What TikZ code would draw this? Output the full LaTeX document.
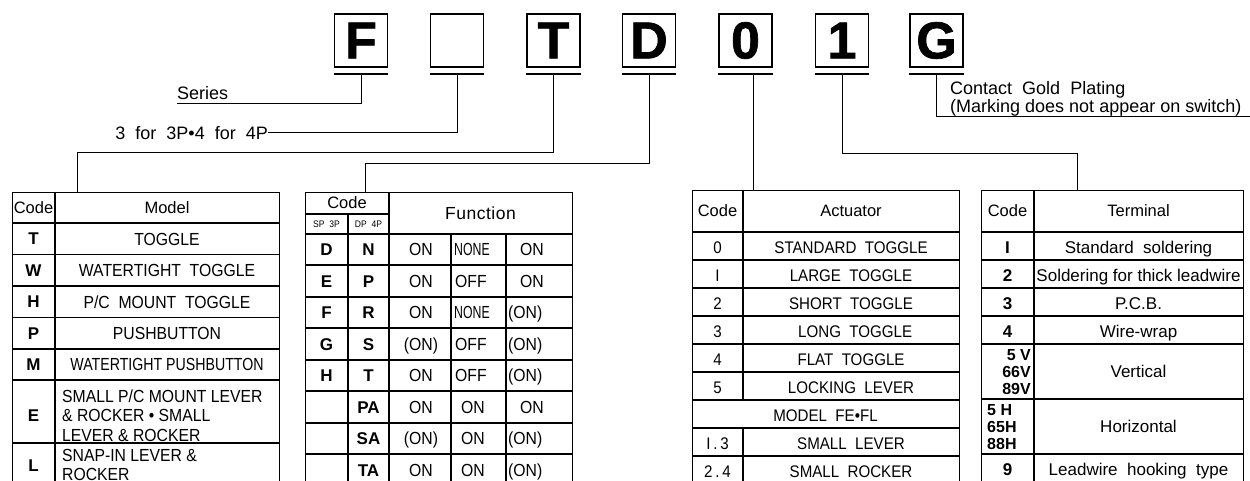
\documentclass[tikz,border=0pt]{standalone}
\usepackage{fontspec}
\setmainfont{Liberation Sans}
\newfontfamily\nf[FakeStretch=0.9]{Liberation Sans}
\newfontfamily\heavy[FakeBold=1.3]{Liberation Sans Bold}
\usetikzlibrary{calc}
\tikzset{
  bigbox/.style={draw, line width=1.5pt, minimum width=53pt, minimum height=53pt, inner sep=0pt,
    font=\heavy\fontsize{52}{52}\selectfont},
  uline/.style={line width=1.6pt},
  conn/.style={line width=1pt},
  tl/.style={line width=1.3pt},
  tframe/.style={draw, line width=1.3pt, inner sep=0pt},
  txt/.style={inner sep=0pt, text height=12.5pt, text depth=0pt, font=\nf\fontsize{17.5}{19}\selectfont},
  ntxt/.style={inner sep=0pt, text height=12.5pt, text depth=0pt, font=\nf\fontsize{17.5}{19}\selectfont},
  bd/.style={inner sep=0pt, text height=12.2pt, text depth=0pt, font=\fontsize{17}{19}\selectfont\bfseries},
  hd/.style={inner sep=0pt, text height=11.8pt, text depth=0pt, font=\fontsize{16.5}{19}\selectfont},
  tiny/.style={inner sep=0pt, text height=6.8pt, text depth=0pt, font=\nf\fontsize{9.5}{10}\selectfont},
  atxt/.style={inner sep=0pt, text height=12pt, text depth=0pt, font=\nf\fontsize{16.8}{19}\selectfont},
  ttxt/.style={inner sep=0pt, text height=12.2pt, text depth=0pt, font=\fontsize{17}{20}\selectfont},
  tcode/.style={inner sep=0pt, text height=12.2pt, text depth=0pt, font=\fontsize{17}{17}\selectfont\bfseries},
  tcode3/.style={inner sep=0pt, text height=11.5pt, text depth=0pt, font=\fontsize{16}{16}\selectfont\bfseries},
  lbl/.style={inner sep=0pt, font=\fontsize{18}{20}\selectfont},
}
\begin{document}
\begin{tikzpicture}[x=1pt,y=-1pt]
\useasboundingbox (0,0) rectangle (1250,481);

% ---- code boxes ----
\node[bigbox] (bF) at (361,40.5) {F};
\node[bigbox] (bX) at (457,40.5) {};
\node[bigbox] (bT) at (553.5,40.5) {T};
\node[bigbox] (bD) at (649,40.5) {D};
\node[bigbox] (bO) at (745.5,40.5) {0};
\node[bigbox] (b1) at (842,40.5) {1};
\node[bigbox] (bG) at (936.5,40.5) {G};
\foreach \b in {bF,bX,bT,bD,bO,b1,bG}{
  \draw[uline] ([yshift=-6pt]\b.south west) -- ([yshift=-6pt]\b.south east);
  \coordinate (u\b) at ([yshift=-6pt]\b.south);
}
\coordinate (ubO2) at ([xshift=7.5pt]ubO);

% ---- tables (frames) ----
\node[tframe, minimum width=267pt, minimum height=330pt, anchor=north west] (tM) at (12,192) {};
\node[tframe, minimum width=267pt, minimum height=330pt, anchor=north west] (tF) at (305,192) {};
\node[tframe, minimum width=267pt, minimum height=330pt, anchor=north west] (tA) at (692,190) {};
\node[tframe, minimum width=262pt, minimum height=330pt, anchor=north west] (tT) at (981,190) {};

% ---- labels ----
\node[lbl, anchor=base west] (lS) at (177,99.5) {Series};
\coordinate (eS) at (177,104);
\node[lbl, anchor=east, text height=13pt, text depth=0pt] (l3) at (268,133) {3\hspace{5pt} for\hspace{5pt} 3P\textbullet4\hspace{5pt} for\hspace{5pt} 4P};
\node[lbl, anchor=base west] (lG1) at (950,94.5) {Contact\ \ Gold\ \ Plating};
\node[lbl, anchor=base west] (lG2) at (950,113) {(Marking\ does\ not\ appear\ on\ switch)};
\coordinate (eG) at (1250,116.5);

% ---- connectors ----
\coordinate (jT) at (77,153);
\coordinate (jD) at (365,164);
\coordinate (j1) at (1077,154);
\draw[conn] (ubF) |- (eS);
\draw[conn] (ubX) |- (l3.east);
\draw[conn] (ubT) |- (jT) -- (jT |- tM.north);
\draw[conn] (ubD) |- (jD) -- (jD |- tF.north);
\draw[conn] (ubO2) -- (ubO2 |- tA.north);
\draw[conn] (ub1) |- (j1) -- (j1 |- tT.north);
\draw[conn] (ubG) |- (eG);

% ---- Model table ----
\draw[tl] (55,192) -- (55,522);
\foreach \y in {223,254.5,286,317.5,349,380,443} \draw[tl] (12,\y) -- (279,\y);
\node[hd] (mh1) at (33.5,207.5) {Code};
\node[hd] (mh2) at (167,207.5) {Model};
\node[bd] (mc1) at (33.5,238.8) {T};
\node[txt] (md1) at (167,238.8) {TOGGLE};
\node[bd] (mc2) at (33.5,270.3) {W};
\node[txt] (md2) at (167,270.3) {WATERTIGHT\ \ TOGGLE};
\node[bd] (mc3) at (33.5,301.8) {H};
\node[txt] (md3) at (167,301.8) {P/C\ \ MOUNT\ \ TOGGLE};
\node[bd] (mc4) at (33.5,333.3) {P};
\node[txt] (md4) at (167,333.3) {PUSHBUTTON};
\node[bd] (mc5) at (33.5,364.5) {M};
\node[txt] (md5) at (167,364.5) {\scalebox{0.9}[1]{WATERTIGHT PUSHBUTTON}};
\node[bd] (mc6) at (33.5,415.5) {E};
\node[txt, anchor=west] (md6a) at (62,396) {SMALL P/C MOUNT LEVER};
\node[txt, anchor=west] (md6b) at (62,415.5) {\& ROCKER \textbullet\ SMALL};
\node[txt, anchor=west] (md6c) at (62,435) {LEVER \& ROCKER};
\node[bd] (mc7) at (33.5,465) {L};
\node[txt, anchor=west] (md7a) at (62,455) {SNAP-IN LEVER \&};
\node[txt, anchor=west] (md7b) at (62,474) {ROCKER};

% ---- Function table ----
\draw[tl] (389,192) -- (389,522);
\draw[tl] (305,214) -- (389,214);
\draw[tl] (348,214) -- (348,522);
\draw[tl] (451,234) -- (451,522);
\draw[tl] (506,234) -- (506,522);
\foreach \y in {234,265,297,328,360,391,423,454} \draw[tl] (305,\y) -- (572,\y);
\node[hd] (fh1) at (347,203) {Code};
\node[tiny] (fh2) at (326.5,224.5) {SP\ \ 3P};
\node[tiny] (fh3) at (368.5,224.5) {DP\ \ 4P};
\node[hd, font=\fontsize{17.5}{20}\selectfont, text height=12.5pt] (fh4) at (480.5,213) {F\kern0.5pt u\kern0.5pt n\kern0.5pt c\kern0.5pt t\kern0.5pt i\kern0.5pt o\kern0.5pt n};
\foreach \a/\b/\p/\y [count=\i] in {
  D/N/ON/249.5, E/P/ON/281, F/R/ON/312.5, G/S/(ON)/344,
  H/T/ON/375.5, {}/PA/ON/407, {}/SA/(ON)/438.5, {}/TA/ON/470}{
  \node[bd] (fa\i) at (326.5,\y) {\a};
  \node[bd] (fb\i) at (368.5,\y) {\b};
  \node[txt] (fp\i) at (421,\y) {\p};
}
% middle column
\node[ntxt, anchor=west] (fq1) at (454,249.5) {\scalebox{0.78}[1]{NONE}};
\node[ntxt, anchor=west] (fq2) at (455,281) {OFF};
\node[ntxt, anchor=west] (fq3) at (454,312.5) {\scalebox{0.78}[1]{NONE}};
\node[ntxt, anchor=west] (fq4) at (455,344) {OFF};
\node[ntxt, anchor=west] (fq5) at (455,375.5) {OFF};
\node[txt] (fq6) at (473,407) {ON};
\node[txt] (fq7) at (473,438.5) {ON};
\node[txt] (fq8) at (473,470) {ON};
% right column
\node[txt] (fr1) at (532,249.5) {ON};
\node[txt] (fr2) at (532,281) {ON};
\node[txt, anchor=west] (fr3) at (508,312.5) {(ON)};
\node[txt, anchor=west] (fr4) at (508,344) {(ON)};
\node[txt, anchor=west] (fr5) at (508,375.5) {(ON)};
\node[txt] (fr6) at (532,407) {ON};
\node[txt, anchor=west] (fr7) at (508,438.5) {(ON)};
\node[txt, anchor=west] (fr8) at (508,470) {(ON)};

% ---- Actuator table ----
\draw[tl] (743,190) -- (743,400);
\draw[tl] (743,428) -- (743,522);
\foreach \y in {232,260,288,316,344,372,400,428,456} \draw[tl] (692,\y) -- (959,\y);
\node[hd] (ah1) at (717.5,211) {Code};
\node[hd] (ah2) at (851,211) {Actuator};
\foreach \c/\t/\y [count=\i] in {0/STANDARD\ \ TOGGLE/247, I/LARGE\ \ TOGGLE/275, 2/SHORT\ \ TOGGLE/303,
  3/\ \ LONG\ \ TOGGLE/331, 4/FLAT\ \ TOGGLE/359, 5/LOCKING\ \ LEVER/387, I\,.\,3/SMALL\ \ LEVER/443, 2\,.\,4/SMALL\ \ ROCKER/471}{
  \node[atxt] (ac\i) at (717.5,\y) {\c};
  \node[atxt] (ad\i) at (851,\y) {\t};
}
\node[atxt] (am) at (825.5,415) {MODEL\ \ FE\textbullet FL};

% ---- Terminal table ----
\draw[tl] (1034,190) -- (1034,522);
\foreach \y in {232,260,288,316,344,399,454} \draw[tl] (981,\y) -- (1243,\y);
\node[hd] (th1) at (1007.5,211) {Code};
\node[hd] (th2) at (1138.5,211) {Terminal};
\foreach \c/\t/\y [count=\i] in {I/Standard\ \ soldering/247, 2/Soldering for thick leadwire/275, 3/P.C.B./303, 4/Wire-wrap/331, 9/Leadwire\ \ hooking\ \ type/469}{
  \node[tcode] (tc\i) at (1007.5,\y) {\c};
  \node[ttxt] (td\i) at (1138.5,\y) {\t};
}
\node[tcode3, anchor=east] (tc6a) at (1031,354.5) {5 V};
\node[tcode3, anchor=east] (tc6b) at (1031,371.5) {66V};
\node[tcode3, anchor=east] (tc6c) at (1031,388.5) {89V};
\node[ttxt] (td6) at (1138.5,371.5) {Vertical};
\node[tcode3, anchor=west] (tc7a) at (987,409.5) {5 H};
\node[tcode3, anchor=west] (tc7b) at (987,426.5) {65H};
\node[tcode3, anchor=west] (tc7c) at (987,443.5) {88H};
\node[ttxt] (td7) at (1138.5,426.5) {Horizontal};
\end{tikzpicture}
\end{document}
